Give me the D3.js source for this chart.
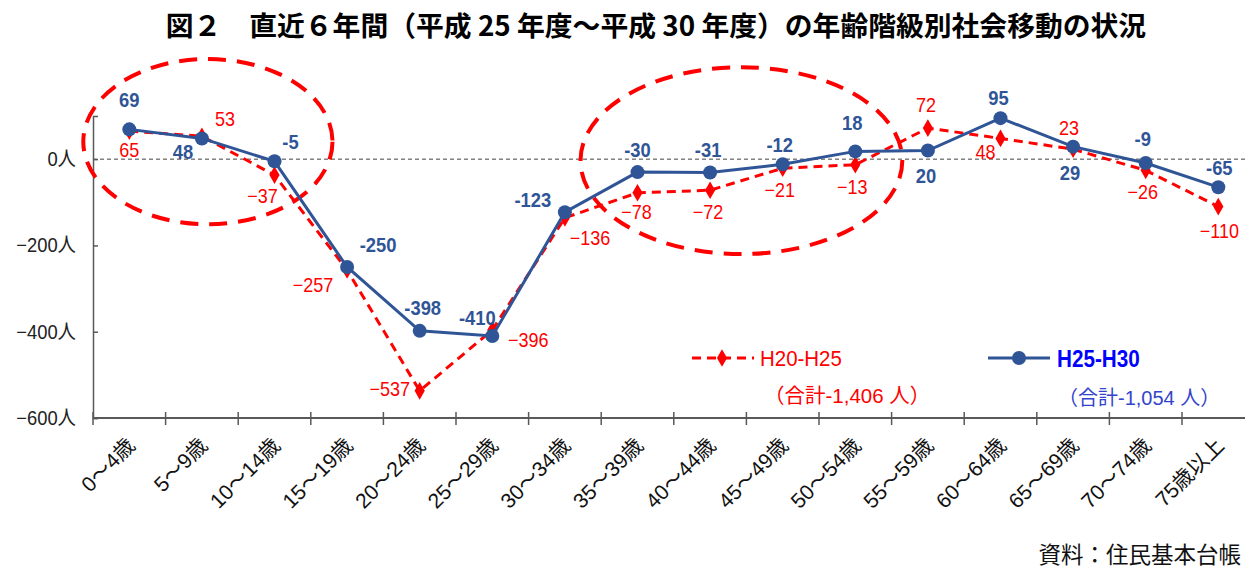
<!DOCTYPE html>
<html>
<head>
<meta charset="utf-8">
<script src="https://cdn.jsdelivr.net/npm/d3@7"></script>
<style>
  body { margin: 0; background: #fff; }
  svg { display: block; }
</style>
</head>
<body>
<div id="chart"></div>
<script>
var WIDTH = 1245, HEIGHT = 569;

// age groups (x axis)
var ageGroups = ['0～4歳', '5～9歳', '10～14歳', '15～19歳', '20～24歳', '25～29歳',
  '30～34歳', '35～39歳', '40～44歳', '45～49歳', '50～54歳', '55～59歳',
  '60～64歳', '65～69歳', '70～74歳', '75歳以上'];

// H20-H25 (red dashed)
var h20h25 = [65, 53, -37, -257, -537, -396, -136, -78, -72, -21, -13, 72, 48, 23, -26, -110];
// H25-H30 (blue solid)
var h25h30 = [69, 48, -5, -250, -398, -410, -123, -30, -31, -12, 18, 20, 95, 29, -9, -65];

var yTicks = [0, -200, -400, -600];

// label offsets from each point (layout only)
var redLabelOffset = [[0, 19], [23, -17], [-12, 21], [-34, 15], [-30, -2], [36, 10], [25, 20], [-1, 19],
  [-2, 22], [-3, 22], [-3, 22], [-2, -23], [-15, 14], [-4, -21], [-3, 22], [1, 24]];
var blueLabelOffset = [[0, -29], [-19, 14], [16, -19], [31, -22], [3, -23], [-15, -18], [-32, -12], [0, -22],
  [-2, -23], [-3, -19], [-3, -28], [-2, 25], [-2, -20], [-3, 26], [-3, -24], [1, -19]];

// circled groups: first/last category index, top/bottom value
var circled = [
  {first: 0, last: 2, top: 232, bottom: -151, shift: 6},
  {first: 7, last: 10, top: 213, bottom: -220, shift: -5}
];

var RED = '#ff0000', BLUE = '#2f5597';
var NUM_FONT = '"Liberation Sans", "Noto Sans CJK JP", sans-serif';
var JP_FONT = '"Noto Sans CJK JP", sans-serif';

var svg = d3.select('#chart')
    .append('svg')
    .attr('width', WIDTH)
    .attr('height', HEIGHT);

var x = d3.scaleBand()
    .domain(ageGroups)
    .range([93, 93 + 16 * 72.6]);

var y = d3.scaleLinear()
    .domain([-600, 100])
    .range([418, 116]);

function cx(i) { return x(ageGroups[i]) + x.bandwidth() / 2; }

//title
svg.append('text')
    .attr('x', 656)
    .attr('y', 36)
    .attr('text-anchor', 'middle')
    .style('font-family', JP_FONT)
    .style('font-weight', 'bold')
    .style('font-size', '27.8px')
    .attr('fill', '#000')
    .text('図２　直近６年間（平成 25 年度～平成 30 年度）の年齢階級別社会移動の状況');

//zero line
svg.append('line')
    .attr('x1', 93).attr('x2', WIDTH)
    .attr('y1', y(0)).attr('y2', y(0))
    .attr('stroke', '#404040')
    .attr('stroke-width', 1)
    .attr('stroke-dasharray', '4,3');

//y axis
var yAxis = d3.axisRight(y).tickValues(yTicks).tickSize(5).tickFormat('');
var yAxisG = svg.append('g').attr('transform', 'translate(93,0)').call(yAxis);
yAxisG.select('.domain').attr('stroke', '#595959').attr('stroke-width', 1.5);
yAxisG.selectAll('.tick line').attr('stroke', '#595959').attr('stroke-width', 1.5);

svg.append('g').selectAll('text')
    .data(yTicks)
    .enter()
    .append('text')
    .attr('transform', function(d) { return 'translate(76,' + (y(d) + 7) + ') scale(0.92,1)'; })
    .attr('text-anchor', 'end')
    .style('font-family', NUM_FONT)
    .style('font-size', '20px')
    .attr('fill', '#222')
    .text(function(d) { return (d < 0 ? '−' + Math.abs(d) : d) + '人'; });

//x axis
var xAxisG = svg.append('g').attr('transform', 'translate(0,' + y(-600) + ')');
xAxisG.append('line')
    .attr('x1', 93).attr('x2', WIDTH)
    .attr('stroke', '#595959').attr('stroke-width', 2);
xAxisG.selectAll('line.tk')
    .data(ageGroups)
    .enter()
    .append('line')
    .attr('class', 'tk')
    .attr('x1', function(d) { return x(d); })
    .attr('x2', function(d) { return x(d); })
    .attr('y1', -6).attr('y2', 7)
    .attr('stroke', '#595959').attr('stroke-width', 1.5);

svg.append('g').selectAll('text')
    .data(ageGroups)
    .enter()
    .append('text')
    .attr('transform', function(d) {
        return 'translate(' + (x(d) + x.bandwidth() / 2 + 7) + ',447) rotate(-45)';
    })
    .attr('text-anchor', 'end')
    .style('font-family', NUM_FONT)
    .style('font-size', '21px')
    .attr('fill', '#111')
    .text(function(d) { return d; });

//circled highlights
svg.append('g').selectAll('ellipse')
    .data(circled)
    .enter()
    .append('ellipse')
    .attr('cx', function(d) { return (cx(d.first) + cx(d.last)) / 2 + d.shift; })
    .attr('cy', function(d) { return (y(d.top) + y(d.bottom)) / 2; })
    .attr('rx', function(d) { return (cx(d.last) - cx(d.first)) / 2 + 52; })
    .attr('ry', function(d) { return (y(d.bottom) - y(d.top)) / 2; })
    .attr('fill', 'none')
    .attr('stroke', RED)
    .attr('stroke-width', 4)
    .attr('stroke-dasharray', '18,11');

var line = d3.line()
    .x(function(d, i) { return cx(i); })
    .y(function(d) { return y(d); });

//red series
svg.append('path')
    .datum(h20h25)
    .attr('d', line)
    .attr('fill', 'none')
    .attr('stroke', RED)
    .attr('stroke-width', 3)
    .attr('stroke-dasharray', '9,6');
svg.append('g').selectAll('path')
    .data(h20h25)
    .enter()
    .append('path')
    .attr('d', d3.symbol().type(d3.symbolDiamond).size(90))
    .attr('transform', function(d, i) { return 'translate(' + cx(i) + ',' + y(d) + ')'; })
    .attr('fill', RED);

//blue series
svg.append('path')
    .datum(h25h30)
    .attr('d', line)
    .attr('fill', 'none')
    .attr('stroke', BLUE)
    .attr('stroke-width', 3);
svg.append('g').selectAll('circle')
    .data(h25h30)
    .enter()
    .append('circle')
    .attr('cx', function(d, i) { return cx(i); })
    .attr('cy', function(d) { return y(d); })
    .attr('r', 7)
    .attr('fill', BLUE);

//data labels
svg.append('g').selectAll('text')
    .data(h20h25)
    .enter()
    .append('text')
    .attr('transform', function(d, i) {
        return 'translate(' + (cx(i) + redLabelOffset[i][0]) + ',' + (y(d) + redLabelOffset[i][1] + 7) + ') scale(0.9,1)';
    })
    .attr('text-anchor', 'middle')
    .style('font-family', NUM_FONT)
    .style('font-size', '20px')
    .attr('fill', RED)
    .text(function(d) { return d < 0 ? '−' + Math.abs(d) : d; });

svg.append('g').selectAll('text')
    .data(h25h30)
    .enter()
    .append('text')
    .attr('transform', function(d, i) {
        return 'translate(' + (cx(i) + blueLabelOffset[i][0]) + ',' + (y(d) + blueLabelOffset[i][1] + 7) + ') scale(0.92,1)';
    })
    .attr('text-anchor', 'middle')
    .style('font-family', NUM_FONT)
    .style('font-size', '20px')
    .style('font-weight', 'bold')
    .attr('fill', BLUE)
    .text(function(d) { return d; });

//legend
var legend = svg.append('g');
legend.append('line')
    .attr('x1', 692).attr('x2', 754).attr('y1', 358).attr('y2', 358)
    .attr('stroke', RED).attr('stroke-width', 3).attr('stroke-dasharray', '9,6');
legend.append('path')
    .attr('d', d3.symbol().type(d3.symbolDiamond).size(90))
    .attr('transform', 'translate(722,358)')
    .attr('fill', RED);
legend.append('text')
    .attr('transform', 'translate(760,366) scale(0.93,1)')
    .style('font-family', NUM_FONT).style('font-size', '22px')
    .attr('fill', RED)
    .text('H20-H25');
legend.append('text')
    .attr('transform', 'translate(764,403)')
    .style('font-family', NUM_FONT).style('font-size', '20.5px')
    .attr('fill', RED)
    .text('（合計-1,406 人）');

legend.append('line')
    .attr('x1', 988).attr('x2', 1050).attr('y1', 358).attr('y2', 358)
    .attr('stroke', BLUE).attr('stroke-width', 3);
legend.append('circle')
    .attr('cx', 1019).attr('cy', 358).attr('r', 7)
    .attr('fill', BLUE);
legend.append('text')
    .attr('transform', 'translate(1057,367) scale(0.9,1)')
    .style('font-family', NUM_FONT).style('font-size', '23px')
    .style('font-weight', 'bold')
    .attr('fill', '#0000ff')
    .text('H25-H30');
legend.append('text')
    .attr('transform', 'translate(1058,405)')
    .style('font-family', NUM_FONT).style('font-size', '20px')
    .attr('fill', '#3344cc')
    .text('（合計-1,054 人）');

//source
svg.append('text')
    .attr('x', 1241)
    .attr('y', 563)
    .attr('text-anchor', 'end')
    .style('font-family', JP_FONT)
    .style('font-size', '22.5px')
    .attr('fill', '#111')
    .text('資料：住民基本台帳');
</script>
</body>
</html>
